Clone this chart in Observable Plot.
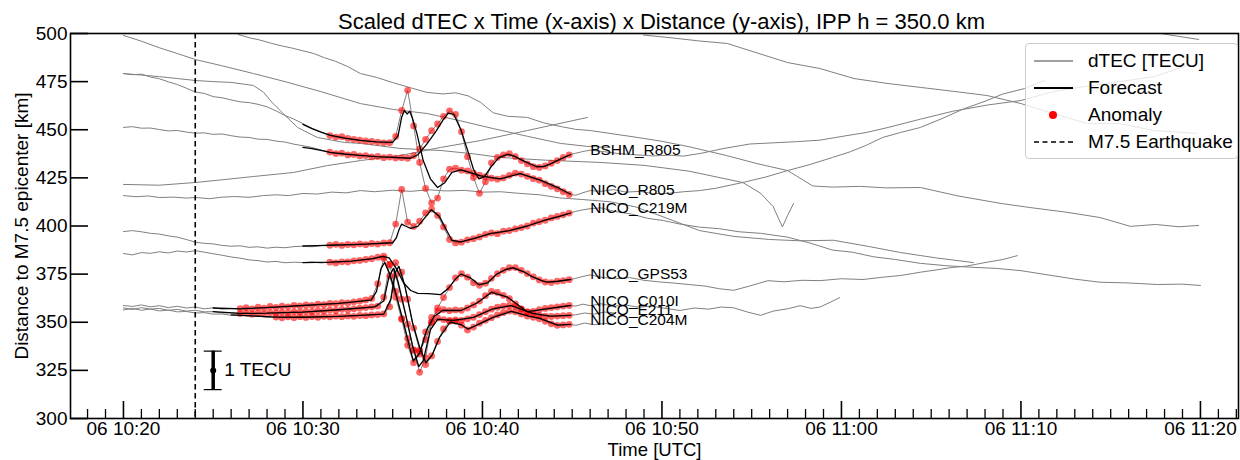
<!DOCTYPE html>
<html><head><meta charset="utf-8">
<script src="https://cdn.jsdelivr.net/npm/d3@7"></script>
<script src="https://cdn.jsdelivr.net/npm/@observablehq/plot@0.6"></script>
<style>
html,body{margin:0;padding:0;background:#fff;overflow:hidden;}
#wrap{position:relative;width:1240px;height:460px;font-family:"Liberation Sans",Arial,sans-serif;color:#000;}
#legend{position:absolute;left:1025px;top:43px;width:213px;height:116px;border:1px solid #cccccc;border-radius:4px;background:rgba(255,255,255,0.8);box-sizing:border-box;}
#legend .row{position:absolute;left:0;height:24px;width:100%;}
#legend svg{position:absolute;left:7px;top:2px;}
#legend span{position:absolute;left:62px;top:1px;font-size:19px;line-height:22px;white-space:nowrap;}
</style></head>
<body><div id="wrap"></div>
<script>
// ---------- axis / annotation values ----------
const BASE = Date.UTC(2024, 0, 6, 10, 20, 0);          // 06 10:20 UTC = minute 0
const tm = m => new Date(BASE + Math.round(m * 60000));
const xDomainMin = [-2.95, 62.12];
const majorTickMin = [0, 10, 20, 30, 40, 50, 60];
const minorTickMin = [-2,-1,1,2,3,4,5,6,7,8,9,11,12,13,14,15,16,17,18,19,21,22,23,24,25,26,27,28,29,31,32,33,34,35,36,37,38,39,41,42,43,44,45,46,47,48,49,51,52,53,54,55,56,57,58,59,61,62];
const yTicks = [300, 325, 350, 375, 400, 425, 450, 475, 500];
const quakeMin = [4];
const scaleBarMin = [5];
const scaleBarKm = [325];
const kmPerTECU = 20;
const titleText = "Scaled dTEC x Time (x-axis) x Distance (y-axis), IPP h = 350.0 km";

// ---------- stations ----------
const stationNames = ["BSHM_R805","NICO_R805","NICO_C219M","NICO_GPS53","NICO_C010I","NICO_E211","NICO_C204M"];
const labelKm = [439.7, 418.9, 409.1, 375.3, 360.8, 356.1, 350.9];
const labelMin = 26.0;
const anomStartMin = [11.5, 11.5, 11.5, 11.5, 6.5, 6.5, 8.5];   // samples every 20 s

const preBSHM_R805 = [[0,451.2],[0.5,451.6],[1,450.8],[1.5,450.9],[2,450.1],[2.5,449.4],[3,449.6],[3.5,448.8],[4,448.2],[4.5,448.4],[5,447.6],[5.5,447.8],[6,446.9],[6.5,446.2],[7,446.0],[7.5,445.1],[8,445.0],[8.5,444.1],[9,443.6],[9.5,442.5],[10,441.7],[10.5,440.8],[11,439.5]];
const anomBSHM_R805 = [438.4,437.6,437.9,436.9,437.2,436.4,436.6,435.9,436.1,435.5,435.8,435.3,435.5,435.2,436.5,440.0,445.0,449.5,453.0,457.0,459.8,458.0,449.0,436.0,425.2,417.0,423.0,432.8,435.6,437.0,437.6,436.0,434.0,432.3,430.8,430.4,431.2,432.6,434.0,435.6,437.0];
const postBSHM_R805 = [[25.2,437.8],[25.6,438.7],[26.0,439.4],[26.8,438.6],[27.6,437.6],[28.5,437.0],[29.5,436.4],[30.4,436.8],[31.2,436.3],[32.2,437.8],[33.4,440.2],[34.9,442.6],[36.2,443.2],[37.5,443.8],[38.8,444.6],[40.2,446.8],[41.4,448.6],[42.6,451.2],[44.4,455.5],[46.2,459.6],[48.1,462.8],[50,465.2],[51.8,469.8],[53.6,472.5],[55.5,475.0],[57.4,477.6],[59.3,483.4]];
const fcBSHM_R805 = [[10,440.8],[10.5,440.2],[11,439.3],[11.5,438.3],[12.3,437.4],[13.2,436.7],[14.1,436.0],[15,435.6],[16,435.2],[16.4,437.0],[16.9,442.5],[17.4,449],[17.8,455],[18.1,458.6],[18.4,458.0],[18.8,450.0],[19.2,438.5],[19.5,429.5],[19.8,424.5],[20.1,425.5],[20.5,431.0],[20.9,435.4],[21.4,437.2],[21.8,436.2],[22.2,434.2],[23.0,430.9],[23.4,430.8],[23.8,432.3],[24.3,434.6],[24.9,437.0]];

const preNICO_R805 = [[0,479.2],[0.5,478.6],[1,478.9],[1.5,477.4],[2,476.5],[2.5,474.9],[3,473.5],[3.5,471.6],[4,469.6],[4.5,468.9],[5,467.2],[5.5,466.6],[6,465.5],[6.5,464.5],[7,464.1],[7.5,463.2],[8,461.9],[8.5,459.8],[9,457.4],[9.5,455.5],[10,453.2],[10.5,450.8],[11,448.9]];
const anomNICO_R805 = [447.0,446.2,446.4,445.5,445.0,444.6,444.2,443.9,443.6,443.2,443.3,446.5,460.0,470.5,452.0,433.0,419.5,412.0,414.5,424.5,429.5,430.0,429.0,428.6,427.5,426.4,425.6,424.8,424.3,425.0,426.3,427.5,427.0,425.8,424.6,423.8,422.0,420.6,419.3,417.8,416.4];
const postNICO_R805 = [[25.2,416.0],[25.6,417.3],[26,418.4],[26.6,418.0],[27.3,418.9],[28,417.6],[28.8,418.0],[29.5,416.8],[30.3,416.9],[31.2,417.8],[32.1,418.4],[33.0,419.6],[34.5,422.6],[35.8,425.5],[37,428.8],[38.2,431.8],[39.5,435.6],[40.5,438.6],[41.4,442.0],[42.3,446.0],[43.3,448.6],[44.4,451.2],[45.6,455.8],[46.8,460.8],[48,464.8],[49,468.6],[50.2,471.4],[51.3,475.6]];
const fcNICO_R805 = [[10,452.8],[10.5,450.6],[11,448.8],[11.5,447.2],[12.3,445.6],[13.2,444.5],[14.1,443.7],[15,443.4],[15.3,447],[15.5,456.5],[15.65,460.0],[15.8,458.2],[15.95,459.6],[16.1,456],[16.35,448],[16.7,434],[17.1,424.5],[17.5,420.0],[17.9,422.5],[18.3,427.8],[18.8,429.2],[19.9,426.0],[21.0,424.5],[22.1,427.2],[23.2,424.0],[24.3,419.5],[24.9,416.6]];

const preNICO_C219M = [[0,397.1],[0.5,397.6],[1,397.0],[1.5,396.2],[2,395.8],[2.5,394.9],[3,394.2],[3.5,393.0],[4,391.6],[4.5,391.0],[5,390.7],[5.5,389.9],[6,389.5],[6.5,389.7],[7,388.9],[7.5,389.2],[8,388.5],[8.5,389.0],[9,388.7],[9.5,389.3],[10,389.5],[10.5,389.2],[11,389.8]];
const anomNICO_C219M = [390.0,390.5,389.9,390.4,390.2,390.7,390.3,390.9,390.6,391.2,391.3,401.0,419.0,402.0,399.8,402.5,406.8,408.8,405.5,399.5,393.0,391.2,391.6,392.8,393.4,394.3,395.6,396.4,396.0,397.3,397.6,398.5,399.2,400.0,401.5,402.2,403.0,404.2,405.0,405.8,406.7];
const postNICO_C219M = [[25.2,407.6],[25.6,408.4],[26.0,409.0],[26.6,409.4],[27.4,407.5],[28.3,406.2],[29.2,404.0],[30.1,402.8],[31.0,401.0],[32.1,399.4],[33.2,398.6],[34.3,397.0],[35.5,396.2],[37.0,394.2],[38.3,391.0],[39.5,387.5],[40.6,386.4],[41.8,384.0],[43.0,382.6],[44.4,380.6],[45.8,379.4],[47.2,378.6],[48.6,378.0],[50.0,376.8],[51.5,374.6],[53,372.4],[54.4,370.8],[56,370.4],[57.6,369.6],[59,369.8],[60,369.1]];
const fcNICO_C219M = [[10,389.6],[10.8,389.8],[11.5,390.0],[13.2,390.5],[15,391.3],[15.2,393.8],[15.35,398],[15.5,401.0],[15.7,400.0],[16.0,398.8],[16.4,399.8],[16.9,405.5],[17.15,408.4],[17.6,405.0],[18.0,397.8],[18.3,392.6],[18.8,391.7],[19.5,393.4],[20.5,396.2],[21.5,397.6],[22.5,400.0],[23.5,403.0],[24.3,405.0],[24.9,406.7]];

const preNICO_GPS53 = [[0,385.7],[0.5,385.0],[1,386.2],[1.5,385.8],[2,386.6],[2.5,386.0],[3,387.0],[3.5,386.5],[4,387.2],[4.5,386.4],[5,385.6],[5.5,384.8],[6,383.9],[6.5,383.3],[7,382.4],[7.5,382.0],[8,381.3],[8.5,381.6],[9,380.9],[9.5,381.2],[10,381.0],[10.5,381.3],[11,380.8]];
const anomNICO_GPS53 = [381.2,380.8,381.4,381.3,381.9,382.1,382.6,383.0,383.8,384.3,380.0,366.0,352.0,341.5,335.5,335.0,341.0,350.0,357.5,362.8,368.0,373.0,375.2,373.4,370.5,369.2,370.3,372.8,375.2,377.0,378.3,378.4,377.0,375.3,373.6,372.0,370.9,370.6,371.3,371.6,372.1];
const postNICO_GPS53 = [[25.2,372.8],[25.6,373.8],[26.0,374.6],[26.6,373.4],[27.4,372.6],[28.2,373.2],[29.0,371.8],[29.8,371.0],[30.6,370.4],[31.5,369.6],[32.4,368.8],[33.2,367.4],[34.0,366.6],[34.8,368.6],[35.9,371.6],[36.8,371.0],[37.8,371.8],[38.8,371.6],[40.0,372.6],[41.2,372.2],[42.3,373.4],[43.3,374.3],[44.4,376.0],[45.3,377.2],[46.1,378.4],[47.0,379.2],[48.0,381.0],[49.0,382.6],[49.8,384.6]];
const fcNICO_GPS53 = [[10,381.0],[10.8,381.1],[11.5,381.2],[12.7,381.8],[13.9,383.0],[14.45,384.2],[14.8,383.4],[15.2,378.0],[15.6,370.5],[16.0,366.5],[16.4,365.0],[17.0,364.9],[17.66,364.3],[18.1,367.6],[18.5,372.4],[18.8,375.0],[19.3,373.2],[19.8,369.6],[20.3,370.5],[20.8,375.0],[21.3,377.4],[21.7,378.2],[22.3,376.2],[22.7,374.0],[23.3,371.6],[23.6,370.8],[24.2,371.3],[24.9,372.2]];

const preNICO_C010I = [[0,358.7],[0.5,358.2],[1,359.0],[1.5,358.0],[2,358.6],[2.5,357.6],[3,358.3],[3.5,357.4],[4,357.9],[4.5,357.0],[5,357.5],[5.5,356.8],[6,357.2]];
const anomNICO_C010I = [357.1,357.6,357.0,357.8,357.3,358.2,357.7,358.4,358.0,358.8,358.5,359.0,358.7,359.4,359.1,359.8,359.6,360.2,360.0,360.6,361.0,361.6,362.4,370.0,383.2,374.0,363.0,351.5,338.0,329.0,333.5,345.0,352.5,355.8,356.6,356.0,356.4,356.2,357.4,359.0,361.0,363.8,366.0,365.5,364.0,362.2,359.5,357.0,355.4,355.6,356.5,357.2,357.6,358.0,358.4,358.7];
const postNICO_C010I = [[25.2,358.4],[25.6,359.4],[26.0,358.6],[26.6,359.6],[27.3,358.3],[28.0,358.9],[28.7,357.8],[29.4,358.4],[30.2,357.2],[31.0,356.1],[31.8,357.4],[32.6,356.8],[33.3,357.9],[34.0,357.5],[34.8,355.2],[35.5,353.6],[36.2,355.8],[37.0,357.0],[37.7,358.6],[38.3,357.2],[38.8,357.9],[39.4,360.5],[39.9,362.8]];
const fcNICO_C010I = [[5.0,357.4],[6.5,357.0],[8,357.6],[10,358.7],[12,359.8],[13.8,361.5],[14.1,366],[14.35,378],[14.55,381],[14.8,376],[15.2,364],[15.6,350],[16.0,335],[16.15,330],[16.5,334],[16.9,346],[17.3,353],[17.8,356.2],[18.8,356.1],[19.7,360],[20.5,365.5],[21.4,363],[22.5,355.5],[23.6,357],[24.9,358.7]];

const preNICO_E211 = [[0,357.5],[0.5,356.6],[1,357.6],[1.5,356.8],[2,357.2],[2.5,356.2],[3,356.7],[3.5,355.8],[4,356.2],[4.5,355.4],[5,355.5],[5.5,354.8],[6,354.9]];
const anomNICO_E211 = [354.5,354.9,354.2,354.8,354.4,355.0,354.7,355.3,354.9,355.5,355.2,355.7,355.4,356.0,355.8,356.3,356.1,356.7,356.5,357.0,357.3,357.6,358.0,358.4,363.0,380.0,374.5,362.0,349.0,335.5,324.0,331.5,350.0,352.2,351.4,350.9,351.2,351.0,351.8,352.6,354.0,355.5,356.8,357.8,358.4,358.7,358.2,356.8,355.4,354.4,353.6,353.2,353.0,353.2,353.4,353.6];
const postNICO_E211 = [[25.2,353.9],[25.7,354.8],[26.2,354.2],[26.8,355.3],[27.3,354.9]];
const fcNICO_E211 = [[5.0,355.5],[6.5,354.6],[8,354.7],[10,355.3],[12,356.5],[14.0,358],[14.5,361],[14.8,374],[15.05,378],[15.3,371],[15.7,355],[16.1,338],[16.45,327],[16.7,330],[17.1,346],[17.5,351.5],[18.4,351],[19.5,352.5],[20.6,357],[21.6,358.6],[22.8,354.6],[23.8,353.2],[24.9,353.6]];

const preNICO_C204M = [[0,356.4],[0.5,357.2],[1,356.2],[1.5,356.9],[2,355.9],[2.5,356.3],[3,355.4],[3.5,355.6],[4,354.8],[4.5,355.0],[5,354.2],[5.5,354.3],[6,353.6],[6.5,353.8],[7,353.1],[7.5,353.3],[8,352.6]];
const anomNICO_C204M = [352.7,352.3,352.8,352.4,352.9,352.5,353.0,352.6,353.1,352.8,353.2,352.9,353.3,353.1,353.5,353.4,353.8,354.0,354.3,358.0,381.0,376.0,362.0,347.0,335.5,328.0,332.5,340.0,346.5,350.5,350.6,348.5,346.0,347.5,349.5,351.0,352.4,353.8,355.0,355.8,355.4,354.3,353.2,352.6,351.8,350.5,349.2,348.4,348.6,348.9];
const postNICO_C204M = [[25.2,348.4],[25.7,349.6],[26.2,348.7],[26.8,349.4],[27.3,348.8]];
const fcNICO_C204M = [[6.0,353.8],[8.5,352.7],[10,352.6],[12,353.0],[14.5,354.2],[14.9,362],[15.15,376],[15.35,379],[15.7,368],[16.1,350],[16.5,337],[16.85,329],[17.2,333],[17.6,342],[18.2,350],[18.8,348.8],[19.2,346.5],[19.9,349.4],[20.6,352.5],[21.6,355.6],[22.6,353.2],[23.2,352],[24.2,348.5],[24.9,348.9]];

// ---------- other dTEC traces (no anomaly window) ----------
const bgTrace1 = [[0,499.0],[1,496.0],[2,492.6],[3,489.6],[4,486.5],[5.5,483.2],[7.24,479.2],[9,475.0],[11,469.8],[13.2,463.6],[15,460.6],[16.94,458.4],[18.8,454.6],[20.6,450.6],[22.5,446.6],[24.35,442.9],[25.8,441.4],[27.1,440.8]];
const bgTrace2 = [[6.4,499.5],[7,497.8],[7.6,496.6],[8.2,495.0],[8.8,493.6],[9.4,492.4],[10,491.0],[10.6,489.6],[11.2,487.4],[11.8,485.6],[12.5,482.8],[13.2,479.2],[14.1,477.2],[15,474.5],[16,471.8],[16.9,469.4],[17.8,468.6],[18.5,469.2],[19.2,467.6],[19.9,464.2],[20.6,458.8],[21.4,457.0],[22.5,456.4],[23.4,453.6],[24.4,451.6],[25.2,450.2],[26.0,449.6],[27.1,448.1],[28.5,446.2],[30,444.0],[31.5,441.2],[33.6,436.6],[35.3,432.4],[37,428.8],[38.4,420.8],[39.5,420.2],[41,420.6],[42.5,419.8],[44.4,420.0],[46.5,415.6],[48.9,411.7],[50.5,409.6],[52.5,407.2],[54.4,404.4],[56.1,399.8],[57.5,400.8],[58.8,399.6],[59.9,400.3]];
const bgTrace3 = [[28.97,499.2],[30.5,497.8],[32,496.2],[33.65,494.8],[35.4,489.6],[37,484.9],[38.8,481.8],[40.7,476.6],[42.6,474.0],[44.4,472.0],[46.2,470.0],[48.1,467.8],[50,463.6],[51.8,458.4],[53.7,453.2],[55.5,453.2],[57.4,449.6],[59.8,448.1]];
const bgTrace4 = [[0,479.2],[1,478.4],[2,477.6],[3,476.6],[4,475.6],[5,475.0],[6,474.6],[7.24,473.0],[7.8,469.5],[8.3,464.0],[8.9,458.4],[9.7,451.2],[10.8,446.0],[12.3,443.4],[13.2,442.9],[15.4,440.3],[17.7,439.2],[19.5,437.5],[21,435.6],[23.5,434.2],[26.6,433.0],[29,431.5],[31.5,428.5],[34.5,422.6],[35.5,417],[36.2,410],[36.71,399.5],[37.0,405.5],[37.33,411.7]];
const bgTrace5 = [[0,421.6],[2,421.2],[4,422.6],[5.5,424.0],[7.24,425.7],[9.47,427.8],[11.36,431.4],[13.2,434.0],[15.43,436.6],[17.66,440.8],[19.9,444.4],[22.5,449.6],[25.85,456.4]];
const bgTrace6 = [[0,415.8],[0.7,415.2],[1.4,415.6],[2,414.8],[2.8,415.0],[3.5,414.5],[4,414.8],[4.8,414.2],[5.5,415.0],[6.2,415.3],[7,414.9],[7.8,415.8],[8.5,416.2],[9.2,415.8],[10,416.9],[10.8,416.6],[11.6,417.6],[12.4,417.2],[13.2,418.4],[14,417.8],[15,418.6],[16,418.0],[17,418.8],[18,418.2],[19,418.5],[20,417.6],[21,417.8],[22,417.0],[23.2,416.2],[24.3,414.6],[25.5,413.8],[27.1,412.6],[28.5,410.0],[30,405.0],[32.1,397.6],[34,394.6],[36,393.0],[37.7,392.3],[39.55,392.6],[41.5,389.4],[43.3,386.2],[45.3,383.4],[47.35,381.0]];
const bgTrace7 = [[57.8,500.0],[58.8,498.5],[59.9,496.9]];

// ---------- build tables ----------
const stationPre = [preBSHM_R805, preNICO_R805, preNICO_C219M, preNICO_GPS53, preNICO_C010I, preNICO_E211, preNICO_C204M];
const stationAnom = [anomBSHM_R805, anomNICO_R805, anomNICO_C219M, anomNICO_GPS53, anomNICO_C010I, anomNICO_E211, anomNICO_C204M];
const stationPost = [postBSHM_R805, postNICO_R805, postNICO_C219M, postNICO_GPS53, postNICO_C010I, postNICO_E211, postNICO_C204M];
const stationFc = [fcBSHM_R805, fcNICO_R805, fcNICO_C219M, fcNICO_GPS53, fcNICO_C010I, fcNICO_E211, fcNICO_C204M];
const bgTraces = [bgTrace1, bgTrace2, bgTrace3, bgTrace4, bgTrace5, bgTrace6, bgTrace7];

const dtecRows = [], fcRows = [], anomRows = [];
stationNames.forEach((name, i) => {
  const anomPts = stationAnom[i].map((v, k) => [anomStartMin[i] + k / 3, v]);
  [...stationPre[i], ...anomPts, ...stationPost[i]].forEach(([m, km]) => dtecRows.push({id: name, t: tm(m), km}));
  anomPts.forEach(([m, km]) => anomRows.push({id: name, t: tm(m), km}));
  stationFc[i].forEach(([m, km]) => fcRows.push({id: name, t: tm(m), km}));
});
bgTraces.forEach((arr, j) => arr.forEach(([m, km]) => dtecRows.push({id: "bg" + j, t: tm(m), km})));
const labelRows = stationNames.map((name, i) => ({t: tm(labelMin), km: labelKm[i], name}));
const barRows = scaleBarMin.map((m, i) => ({t: tm(m), c: scaleBarKm[i], lo: scaleBarKm[i] - kmPerTECU / 2, hi: scaleBarKm[i] + kmPerTECU / 2, a: tm(m - 0.5), b: tm(m + 0.5)}));

const innerW = 1240 - 70 - 2, innerH = 460 - 33 - 42;
const fmt = d3.utcFormat("%d %H:%M");

const chart = Plot.plot({
  width: 1240, height: 460,
  marginLeft: 70, marginRight: 2, marginTop: 33, marginBottom: 42,
  x: {type: "utc", domain: xDomainMin.map(tm)},
  y: {domain: [300, 500]},
  style: {fontFamily: "Liberation Sans, Arial, sans-serif", background: "white", color: "black", overflow: "visible"},
  marks: [
    Plot.line(dtecRows, {x: "t", y: "km", z: "id", stroke: "#808080", strokeWidth: 1, clip: true}),
    Plot.dot(anomRows, {x: "t", y: "km", r: 3.4, fill: "#ff0000", fillOpacity: 0.6, stroke: "none"}),
    Plot.line(fcRows, {x: "t", y: "km", z: "id", stroke: "black", strokeWidth: 1.3}),
    Plot.ruleX(quakeMin.map(tm), {stroke: "black", strokeWidth: 1.6, strokeDasharray: "5.5,3.5"}),
    Plot.ruleX(barRows, {x: "t", y1: "lo", y2: "hi", stroke: "black", strokeWidth: 3.5}),
    Plot.ruleY(barRows, {y: "lo", x1: "a", x2: "b", stroke: "black", strokeWidth: 1.2}),
    Plot.ruleY(barRows, {y: "hi", x1: "a", x2: "b", stroke: "black", strokeWidth: 1.2}),
    Plot.dot(barRows, {x: "t", y: "c", r: 3, fill: "black"}),
    Plot.text(barRows, {x: "t", y: "c", text: () => "1 TECU", dx: 11, textAnchor: "start", fontSize: 19}),
    Plot.text(labelRows, {x: "t", y: "km", text: "name", textAnchor: "start", fontSize: 15.5}),
    Plot.frame({stroke: "black", strokeWidth: 1.6}),
    Plot.ruleX(majorTickMin.map(tm), {insetTop: innerH - 17, stroke: "black", strokeWidth: 1.6}),
    Plot.ruleX(minorTickMin.map(tm), {insetTop: innerH - 9, stroke: "black", strokeWidth: 1.3}),
    Plot.ruleY(yTicks, {insetRight: innerW - 18, stroke: "black", strokeWidth: 1.6}),
    Plot.axisX({ticks: majorTickMin.map(tm), tickSize: 0, tickPadding: 3, tickFormat: fmt, fontSize: 19, label: null}),
    Plot.axisY({ticks: yTicks, tickSize: 0, tickPadding: 3, fontSize: 19, label: null}),
    Plot.text([titleText], {frameAnchor: "top", dy: -5, dx: 7, lineAnchor: "bottom", fontSize: 22}),
    Plot.text(["Time [UTC]"], {frameAnchor: "bottom", dy: 37, lineAnchor: "bottom", fontSize: 18.5}),
    Plot.text(["Distance to M7.5 epicenter [km]"], {frameAnchor: "left", dx: -49, rotate: -90, textAnchor: "middle", fontSize: 19})
  ]
});

const wrap = document.getElementById("wrap");
wrap.appendChild(chart);

// legend (inside the axes, top right)
const legendItems = [
  {label: "dTEC [TECU]", kind: "line", color: "#808080", dash: null, w: 1.5},
  {label: "Forecast", kind: "line", color: "black", dash: null, w: 1.8},
  {label: "Anomaly", kind: "dot", color: "#ff0000"},
  {label: "M7.5 Earthquake", kind: "line", color: "black", dash: "5,3.5", w: 1.6}
];
const lg = document.createElement("div");
lg.id = "legend";
legendItems.forEach((it, i) => {
  const row = document.createElement("div");
  row.className = "row";
  row.style.top = (5 + i * 27) + "px";
  const sw = it.kind === "dot"
    ? `<svg width="42" height="20"><circle cx="20" cy="10" r="4" fill="${it.color}"/></svg>`
    : `<svg width="42" height="20"><line x1="1" y1="10" x2="40" y2="10" stroke="${it.color}" stroke-width="${it.w}" ${it.dash ? `stroke-dasharray="${it.dash}"` : ""}/></svg>`;
  row.innerHTML = sw + `<span>${it.label}</span>`;
  lg.appendChild(row);
});
wrap.appendChild(lg);
</script>
</body></html>
